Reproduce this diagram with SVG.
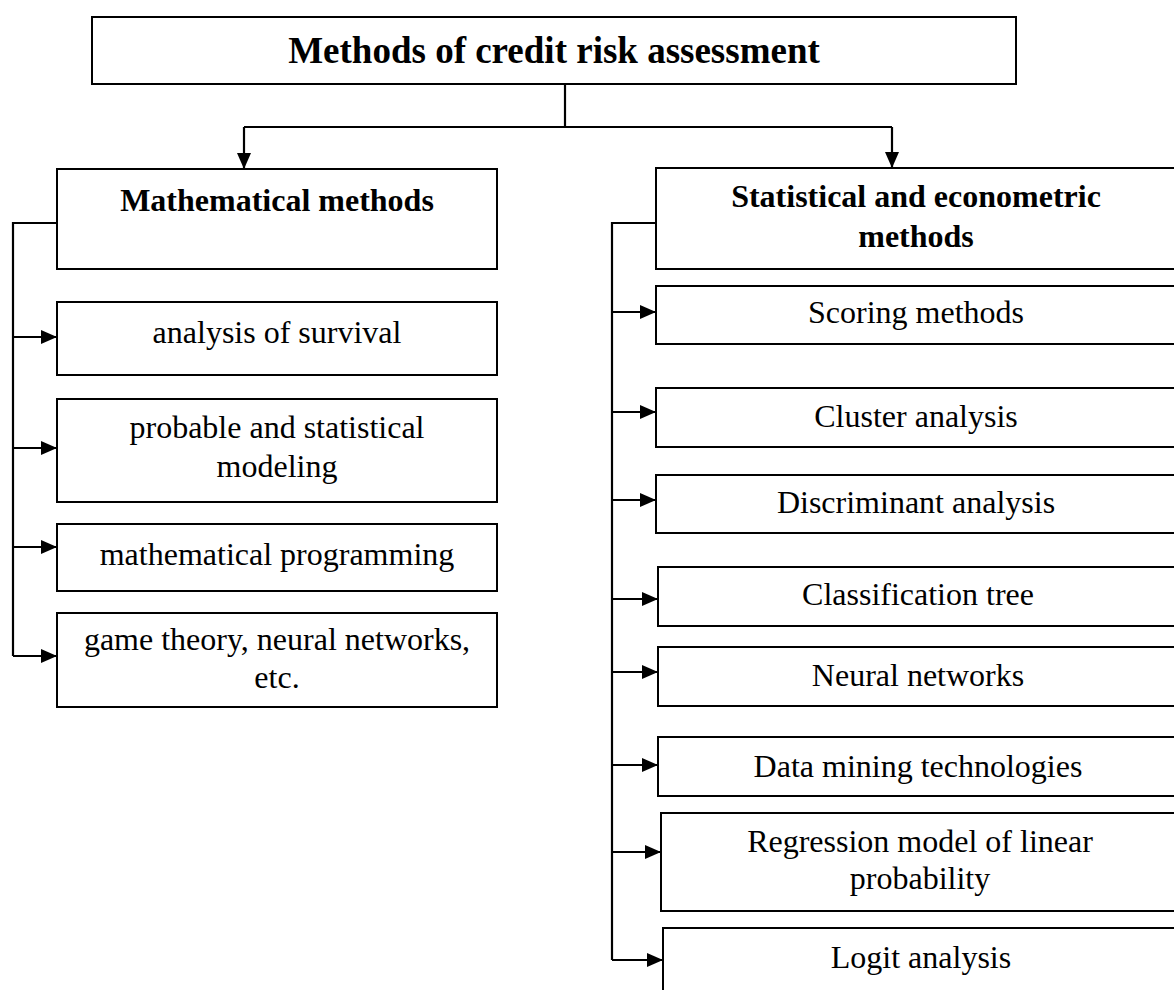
<svg xmlns="http://www.w3.org/2000/svg" width="1174" height="990" viewBox="0 0 1174 990">
<style>
.box{fill:#fff;stroke:#000;stroke-width:2}
.t{font-family:"Liberation Serif","Times New Roman",serif;font-size:32px;fill:#000;text-anchor:middle}
.b{font-weight:bold}
.title{font-size:37px}
.ln{fill:none;stroke:#000;stroke-width:2.2}
</style>
<defs>
<marker id="ah" markerUnits="userSpaceOnUse" markerWidth="16" markerHeight="14" refX="16" refY="7" orient="auto">
<path d="M0,0 L16,7 L0,14 z" fill="#000"/>
</marker>
</defs>
<rect width="1174" height="990" fill="#fff"/>
<g id="connectors">
<polyline class="ln" points="565,84 565,127"/>
<polyline class="ln" points="244,127 892,127"/>
<line class="ln" x1="244" y1="127" x2="244" y2="169" marker-end="url(#ah)"/>
<line class="ln" x1="892" y1="127" x2="892" y2="168" marker-end="url(#ah)"/>
<polyline class="ln" points="57,223 13,223 13,656"/>
<line class="ln" x1="13" y1="337" x2="57" y2="337" marker-end="url(#ah)"/>
<line class="ln" x1="13" y1="448" x2="57" y2="448" marker-end="url(#ah)"/>
<line class="ln" x1="13" y1="547" x2="57" y2="547" marker-end="url(#ah)"/>
<line class="ln" x1="13" y1="656" x2="57" y2="656" marker-end="url(#ah)"/>
<polyline class="ln" points="656,223 612,223 612,960"/>
<line class="ln" x1="612" y1="312" x2="656" y2="312" marker-end="url(#ah)"/>
<line class="ln" x1="612" y1="412" x2="656" y2="412" marker-end="url(#ah)"/>
<line class="ln" x1="612" y1="500" x2="656" y2="500" marker-end="url(#ah)"/>
<line class="ln" x1="612" y1="599" x2="658" y2="599" marker-end="url(#ah)"/>
<line class="ln" x1="612" y1="672" x2="658" y2="672" marker-end="url(#ah)"/>
<line class="ln" x1="612" y1="765" x2="658" y2="765" marker-end="url(#ah)"/>
<line class="ln" x1="612" y1="852" x2="661" y2="852" marker-end="url(#ah)"/>
<line class="ln" x1="612" y1="960" x2="663" y2="960" marker-end="url(#ah)"/>
</g>
<g id="n-root"><rect class="box" x="92" y="17" width="924" height="67"/><text class="t b title" x="554" y="63">Methods of credit risk assessment</text></g>
<g id="n-math"><rect class="box" x="57" y="169" width="440" height="100"/><text class="t b" x="277" y="211">Mathematical methods</text></g>
<g id="n-surv"><rect class="box" x="57" y="302" width="440" height="73"/><text class="t" x="277" y="343">analysis of survival</text></g>
<g id="n-prob"><rect class="box" x="57" y="399" width="440" height="103"/><text class="t" x="277" y="438">probable and statistical</text><text class="t" x="277" y="477">modeling</text></g>
<g id="n-mprog"><rect class="box" x="57" y="524" width="440" height="67"/><text class="t" x="277" y="565">mathematical programming</text></g>
<g id="n-game"><rect class="box" x="57" y="613" width="440" height="94"/><text class="t" x="277" y="650">game theory, neural networks,</text><text class="t" x="277" y="688">etc.</text></g>
<g id="n-stat"><rect class="box" x="656" y="168" width="522" height="101"/><text class="t b" x="916" y="207">Statistical and econometric</text><text class="t b" x="916" y="247">methods</text></g>
<g id="n-scoring"><rect class="box" x="656" y="286" width="522" height="58"/><text class="t" x="916" y="323">Scoring methods</text></g>
<g id="n-cluster"><rect class="box" x="656" y="388" width="522" height="59"/><text class="t" x="916" y="427">Cluster analysis</text></g>
<g id="n-discr"><rect class="box" x="656" y="475" width="522" height="58"/><text class="t" x="916" y="513">Discriminant analysis</text></g>
<g id="n-class"><rect class="box" x="658" y="567" width="520" height="59"/><text class="t" x="918" y="605">Classification tree</text></g>
<g id="n-neural"><rect class="box" x="658" y="647" width="520" height="59"/><text class="t" x="918" y="686">Neural networks</text></g>
<g id="n-dm"><rect class="box" x="658" y="737" width="520" height="59"/><text class="t" x="918" y="777">Data mining technologies</text></g>
<g id="n-reg"><rect class="box" x="661" y="813" width="517" height="98"/><text class="t" x="920" y="852">Regression model of linear</text><text class="t" x="920" y="889">probability</text></g>
<g id="n-logit"><rect class="box" x="663" y="928" width="515" height="80"/><text class="t" x="921" y="968">Logit analysis</text></g>
</svg>
